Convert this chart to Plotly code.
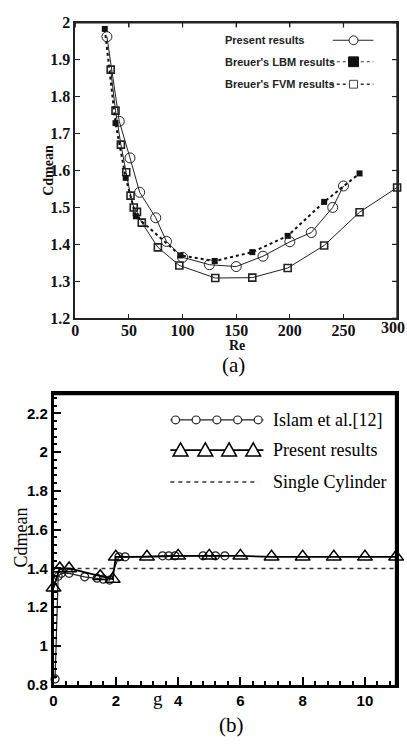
import plotly.graph_objects as go

W, H = 407, 748

# ---------------- data (a) ----------------
re_present = [29.5, 41, 51, 60, 75, 85, 100, 125, 150, 175, 200, 220, 240, 250]
cd_present = [1.962, 1.733, 1.634, 1.541, 1.472, 1.408, 1.365, 1.345, 1.34, 1.368, 1.407, 1.432, 1.50, 1.558]
re_lbm = [27.5, 37.5, 47, 56.5, 98, 130, 165, 198, 232, 265]
cd_lbm = [1.983, 1.728, 1.58, 1.476, 1.37, 1.355, 1.379, 1.423, 1.515, 1.592]
re_fvm = [33, 37.5, 42.5, 47.5, 51.5, 54.5, 57.5, 62, 77, 97, 130.5, 165, 198, 232, 265, 300]
cd_fvm = [1.873, 1.762, 1.67, 1.595, 1.532, 1.50, 1.488, 1.459, 1.392, 1.343, 1.309, 1.31, 1.336, 1.397, 1.487, 1.554]
ticks_re = [0, 50, 100, 150, 200, 250, 300]
ticks_cd_a = [1.2, 1.3, 1.4, 1.5, 1.6, 1.7, 1.8, 1.9, 2.0]
labels_cd_a = ["1.2", "1.3", "1.4", "1.5", "1.6", "1.7", "1.8", "1.9", "2"]

# ---------------- data (b) ----------------
g_present = [0, 0.2, 0.5, 1.5, 1.9, 2.0, 3, 4, 5, 6, 7, 8, 9, 10, 11]
cd_present_b = [1.30, 1.40, 1.40, 1.36, 1.345, 1.46, 1.46, 1.465, 1.465, 1.465, 1.46, 1.46, 1.46, 1.46, 1.46]
g_islam = [0.05, 0.15, 0.25, 0.5, 1.0, 1.4, 1.6, 1.8, 2.1, 2.3, 3.5, 3.7, 3.9, 4.8, 5.2, 5.5]
cd_islam = [0.83, 1.36, 1.375, 1.375, 1.357, 1.35, 1.345, 1.34, 1.46, 1.46, 1.465, 1.465, 1.465, 1.465, 1.465, 1.465]
g_single = [0, 11]
cd_single = [1.40, 1.40]
ticks_g = [0, 2, 4, 6, 8, 10]
ticks_cd_b = [0.8, 1.0, 1.2, 1.4, 1.6, 1.8, 2.0, 2.2]
labels_cd_b = ["0.8", "1", "1.2", "1.4", "1.6", "1.8", "2", "2.2"]

# plot-area boxes in pixels (left, right, top, bottom)
A_L, A_R, A_T, A_B = 72, 397, 15, 317.5
B_L, B_R, B_T, B_B = 50, 396, 395, 692.5
RE_RANGE = [0, 300]
CDA_RANGE = [1.2, 2.0]


def px(x):
    return x / W


def py(y):
    return 1 - y / H


fig = go.Figure()

# ---- panel (a) traces ----
fig.add_trace(go.Scatter(x=re_fvm, y=cd_fvm, mode="lines+markers", xaxis="x", yaxis="y",
                         line=dict(color="#222", width=1),
                         marker=dict(symbol="square-open", size=7, color="#222", line=dict(width=1.6)),
                         showlegend=False, cliponaxis=False))
fig.add_trace(go.Scatter(x=re_lbm, y=cd_lbm, mode="lines+markers", xaxis="x", yaxis="y",
                         line=dict(color="#111", width=2, dash="dot"),
                         marker=dict(symbol="square", size=6, color="#111"),
                         showlegend=False, cliponaxis=False))
fig.add_trace(go.Scatter(x=re_present, y=cd_present, mode="lines+markers", xaxis="x", yaxis="y",
                         line=dict(color="#222", width=1),
                         marker=dict(symbol="circle-open", size=10, color="#222", line=dict(width=1)),
                         showlegend=False, cliponaxis=False))

# ---- panel (b) traces ----
fig.add_trace(go.Scatter(x=g_single, y=cd_single, mode="lines", xaxis="x2", yaxis="y2",
                         line=dict(color="#333", width=1.5, dash="4px,4px"), showlegend=False))
fig.add_trace(go.Scatter(x=g_islam, y=cd_islam, mode="lines+markers", xaxis="x2", yaxis="y2",
                         line=dict(color="#222", width=1.2),
                         marker=dict(symbol="circle-open", size=8, color="#222", line=dict(width=1.2)),
                         showlegend=False, cliponaxis=False))
fig.add_trace(go.Scatter(x=g_present, y=cd_present_b, mode="lines+markers", xaxis="x2", yaxis="y2",
                         line=dict(color="#000", width=1.8),
                         marker=dict(symbol="triangle-up-open", size=13, color="#000", line=dict(width=1.5)),
                         showlegend=False, cliponaxis=False))

shapes = []


def p_line(x0, y0, x1, y1, color, width, dash="solid"):
    shapes.append(dict(type="line", xref="paper", yref="paper", x0=px(x0), x1=px(x1), y0=py(y0), y1=py(y1),
                       line=dict(color=color, width=width, dash=dash), layer="above"))


# ---- frame top/right edges and mirrored ticks of panel (a) ----
p_line(A_L - 0.7, A_T, A_R + 0.7, A_T, "#222", 1.5)
p_line(A_R, A_T, A_R, A_B + 0.7, "#222", 1.5)
for t in ticks_re:
    xx = A_L + (t - RE_RANGE[0]) / (RE_RANGE[1] - RE_RANGE[0]) * (A_R - A_L)
    p_line(xx, A_T, xx, A_T + 5, "#222", 1.2)
for t in ticks_cd_a:
    yy = A_B - (t - CDA_RANGE[0]) / (CDA_RANGE[1] - CDA_RANGE[0]) * (A_B - A_T)
    p_line(A_R - 5, yy, A_R, yy, "#222", 1.2)
# ---- frame top/right edges of panel (b) ----
p_line(B_L - 1.2, B_T, B_R + 1.2, B_T, "#000", 2.5)
p_line(B_R, B_T, B_R, B_B + 1.2, "#000", 2.5)


# ---- legend samples as paper shapes (pixel helpers) ----
def s_line(x0, x1, y, color, width, dash="solid"):
    p_line(x0, y, x1, y, color, width, dash)


def s_circle(cx, cy, r, color, width):
    shapes.append(dict(type="circle", xref="paper", yref="paper", x0=px(cx - r), x1=px(cx + r),
                       y0=py(cy + r), y1=py(cy - r), line=dict(color=color, width=width), fillcolor="white"))


def s_rect(cx, cy, h, color, width, fill):
    shapes.append(dict(type="rect", xref="paper", yref="paper", x0=px(cx - h), x1=px(cx + h),
                       y0=py(cy + h), y1=py(cy - h), line=dict(color=color, width=width), fillcolor=fill))


def s_tri(cx, top, bottom, half, color, width):
    path = "M {:.5f},{:.5f} L {:.5f},{:.5f} L {:.5f},{:.5f} Z".format(
        px(cx), py(top), px(cx - half), py(bottom), px(cx + half), py(bottom))
    shapes.append(dict(type="path", xref="paper", yref="paper", path=path,
                       line=dict(color=color, width=width), fillcolor="white"))


# (a) legend
s_line(332, 373, 33, "#222", 1)
s_circle(353, 33, 4.5, "#222", 1)
s_line(330, 373, 55, "#333", 1, "dot")
s_rect(353, 55, 5, "#111", 1, "#111")
s_line(330, 373, 78, "#333", 1.3, "dot")
s_rect(353, 78, 4, "#444", 1, "white")

# (b) legend
s_line(168, 262, 421.5, "#222", 1.2)
for cx in [173.3, 194, 215, 236, 256.7]:
    s_circle(cx, 421.5, 4, "#222", 1.2)
s_line(168, 262, 452.5, "#000", 1.8)
for cx in [178.3, 203.3, 227.3, 251.7]:
    s_tri(cx, 445, 458.5, 7.5, "#000", 1.5)
s_line(168, 257, 485, "#333", 1.5, "4px,4px")

serif = "Liberation Serif"
sans = "Liberation Sans"

axa = dict(showgrid=False, zeroline=False, showline=True, linecolor="#222", linewidth=1.5,
           mirror="ticks", ticks="inside", ticklen=5, tickwidth=1.2, tickcolor="#222",
           tickfont=dict(family=serif, size=16, color="#111", weight="bold"))
axb = dict(showgrid=False, zeroline=False, showline=True, linecolor="#000", linewidth=2.5,
           mirror=True, ticks="inside", ticklen=8, tickwidth=2, tickcolor="#000",
           tickfont=dict(family=sans, size=15, color="#000", weight="bold"))

fig.update_layout(
    width=W, height=H, margin=dict(l=0, r=0, t=0, b=0),
    paper_bgcolor="white", plot_bgcolor="white",
    xaxis=dict(axa, domain=[px(A_L), px(A_R)], range=RE_RANGE, tickvals=ticks_re[:-1], anchor="y",
               ticklabelstandoff=-3),
    yaxis=dict(axa, domain=[py(A_B), py(A_T)], range=CDA_RANGE, tickvals=ticks_cd_a,
               ticktext=labels_cd_a, anchor="x"),
    xaxis2=dict(axb, domain=[px(B_L), px(B_R)], range=[0, 11], tickvals=ticks_g, anchor="y2",
                minor=dict(dtick=0.4, tick0=0, ticks="inside", ticklen=4, tickwidth=1.5, tickcolor="#000")),
    yaxis2=dict(axb, domain=[py(B_B), py(B_T)], range=[0.8, 2.3], tickvals=ticks_cd_b,
                ticktext=labels_cd_b, anchor="x2",
                minor=dict(dtick=0.04, tick0=0.8, ticks="inside", ticklen=4, tickwidth=1.5, tickcolor="#000")),
    shapes=shapes,
)

ann = []
# (a) legend text
for txt, y in [("Present results", 33), ("Breuer's LBM results", 55), ("Breuer's FVM results", 78)]:
    ann.append(dict(text=txt, x=px(222), y=py(y), xanchor="left", yanchor="middle",
                    font=dict(family=sans, size=11, color="#222", weight="bold")))
# (b) legend text
for txt, y in [("Islam et al.[12]", 421.5), ("Present results", 452), ("Single Cylinder", 485)]:
    ann.append(dict(text=txt, x=px(271), y=py(y), xanchor="left", yanchor="middle",
                    font=dict(family=serif, size=18, color="#000")))
# end label of panel (a) x axis, kept inside the page
ann.append(dict(text=str(ticks_re[-1]), x=px(406), y=py(327), xanchor="right", yanchor="middle",
                font=dict(family=serif, size=16, color="#111", weight="bold")))
# axis titles
ann.append(dict(text="Re", x=px(235), y=py(345), xanchor="center", yanchor="middle",
                font=dict(family=serif, size=14, color="#111", weight="bold")))
ann.append(dict(text="Cdmean", x=px(45), y=py(166), xanchor="center", yanchor="middle", textangle=-90,
                font=dict(family=serif, size=14, color="#111", weight="bold")))
ann.append(dict(text="g", x=px(156), y=py(707), xanchor="center", yanchor="middle",
                font=dict(family=serif, size=19, color="#000")))
ann.append(dict(text="Cdmean", x=px(17), y=py(542), xanchor="center", yanchor="middle", textangle=-90,
                font=dict(family=serif, size=18, color="#000")))
# captions
ann.append(dict(text="(a)", x=px(232), y=py(365), xanchor="center", yanchor="middle",
                font=dict(family=serif, size=21, color="#000")))
ann.append(dict(text="(b)", x=px(230), y=py(734), xanchor="center", yanchor="middle",
                font=dict(family=serif, size=21, color="#000")))
for a in ann:
    a.update(xref="paper", yref="paper", showarrow=False, borderpad=0)
fig.update_layout(annotations=ann)

fig.write_html("out.html", config=dict(displayModeBar=False),
               post_script="document.body.style.margin='0';document.body.style.overflow='hidden';")
